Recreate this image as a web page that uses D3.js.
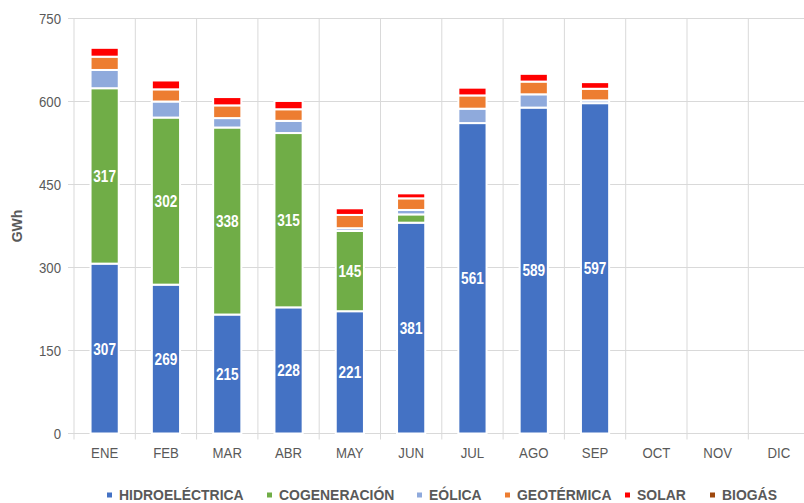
<!DOCTYPE html>
<html>
<head>
<meta charset="utf-8">
<script src="https://cdn.jsdelivr.net/npm/d3@7"></script>
<style>
  body { margin: 0; background: #fff; }
  svg { display: block; }
  text { font-family: "Liberation Sans", Arial, sans-serif; }
</style>
</head>
<body>
<svg width="804" height="503"></svg>
<script>
// generacion mensual por fuente (GWh)
var meses = ["ENE", "FEB", "MAR", "ABR", "MAY", "JUN", "JUL", "AGO", "SEP", "OCT", "NOV", "DIC"];
var hidro = [307, 269, 215, 228, 221, 381, 561, 589, 597, 0, 0, 0];
var cogen = [317, 302, 338, 315, 145, 15, 0, 0, 0, 0, 0, 0];
var eolica = [33, 29, 17, 22, 5, 8, 26, 24, 5, 0, 0, 0];
var geo = [24, 22, 23, 21, 24, 21, 24, 23, 21, 0, 0, 0];
var solar = [16, 16, 15, 15, 12, 9, 14, 14, 12, 0, 0, 0];
var biogas = [0, 0, 0, 0, 0, 0, 0, 0, 0, 0, 0, 0];
var yTicks = [0, 150, 300, 450, 600, 750];

var fuentes = ["HIDROELÉCTRICA", "COGENERACIÓN", "EÓLICA", "GEOTÉRMICA", "SOLAR", "BIOGÁS"];
var colores = ["#4472c4", "#70ad47", "#8faadc", "#ed7d31", "#ff0000", "#9e480e"];
var series = [hidro, cogen, eolica, geo, solar, biogas];

var svg = d3.select("svg");

var x = d3.scaleBand().domain(meses).range([74, 809.6]).paddingInner(0.54).paddingOuter(0.27);
var y = d3.scaleLinear().domain([0, 750]).range([433.5, 18.5]);

// table for d3.stack
var tabla = meses.map(function(m, i) {
  var row = { mes: m };
  fuentes.forEach(function(f, j) { row[f] = series[j][i]; });
  return row;
});
var pilas = d3.stack().keys(fuentes)(tabla);

// narrow-looking text: squeeze horizontally
var at = function(px, py, s) { return "translate(" + px + "," + py + ") scale(" + s + ",1)"; };

// grid
var step = x.step();
svg.append("g").selectAll("line").data(yTicks).join("line")
  .attr("x1", 68).attr("x2", 804)
  .attr("y1", function(d) { return y(d); }).attr("y2", function(d) { return y(d); })
  .attr("stroke", "#d9d9d9").attr("stroke-width", 1);
svg.append("g").selectAll("line").data(d3.range(13)).join("line")
  .attr("x1", function(i) { return 74 + i * step; }).attr("x2", function(i) { return 74 + i * step; })
  .attr("y1", y(750)).attr("y2", y(0) + 6)
  .attr("stroke", "#d9d9d9").attr("stroke-width", 1);

// y axis labels
svg.append("g").selectAll("text").data(yTicks).join("text")
  .attr("transform", function(d) { return at(61, y(d), 0.88); }).attr("dy", "0.35em")
  .attr("text-anchor", "end").attr("font-size", 15).attr("fill", "#595959")
  .text(function(d) { return d; });

svg.append("text")
  .attr("transform", "translate(22," + y(375) + ") rotate(-90)")
  .attr("text-anchor", "middle").attr("font-size", 14).attr("font-weight", "bold").attr("fill", "#595959")
  .text("GWh");

// x labels
svg.append("g").selectAll("text").data(meses).join("text")
  .attr("transform", function(d) { return at(x(d) + x.bandwidth() / 2, 458, 0.88); })
  .attr("text-anchor", "middle").attr("font-size", 15).attr("fill", "#595959")
  .text(function(d) { return d; });

// bars
svg.append("g").selectAll("g").data(pilas).join("g")
  .attr("fill", function(d, i) { return colores[i]; })
  .selectAll("rect").data(function(d) { return d; }).join("rect")
  .attr("x", function(d) { return x(d.data.mes); })
  .attr("y", function(d) { return y(d[1]); })
  .attr("width", x.bandwidth())
  .attr("height", function(d) { return y(d[0]) - y(d[1]); })
  .attr("stroke", "#fff").attr("stroke-width", 2)
  .attr("display", function(d) { return d[1] - d[0] > 0 ? null : "none"; });

// value labels on hidro and cogeneracion
[0, 1].forEach(function(k) {
  svg.append("g").selectAll("text").data(pilas[k].filter(function(d) { return d[1] - d[0] >= 100; })).join("text")
    .attr("transform", function(d) { return at(x(d.data.mes) + x.bandwidth() / 2, y((d[0] + d[1]) / 2), 0.8); })
    .attr("dy", "0.35em")
    .attr("text-anchor", "middle").attr("font-size", 17).attr("font-weight", "bold").attr("fill", "#fff")
    .text(function(d) { return d[1] - d[0]; });
});

// legend
var legX = [119, 279, 429, 517, 637, 722];
var leg = svg.append("g").selectAll("g").data(fuentes).join("g")
  .attr("transform", function(d, i) { return "translate(" + legX[i] + ",495)"; });
leg.append("rect").attr("x", -12).attr("y", -2.5).attr("width", 5).attr("height", 5)
  .attr("fill", function(d, i) { return colores[i]; });
leg.append("text").attr("transform", "scale(0.93,1)").attr("dy", "0.35em")
  .attr("font-size", 15).attr("font-weight", "bold").attr("fill", "#595959")
  .text(function(d) { return d; });
</script>
</body>
</html>
